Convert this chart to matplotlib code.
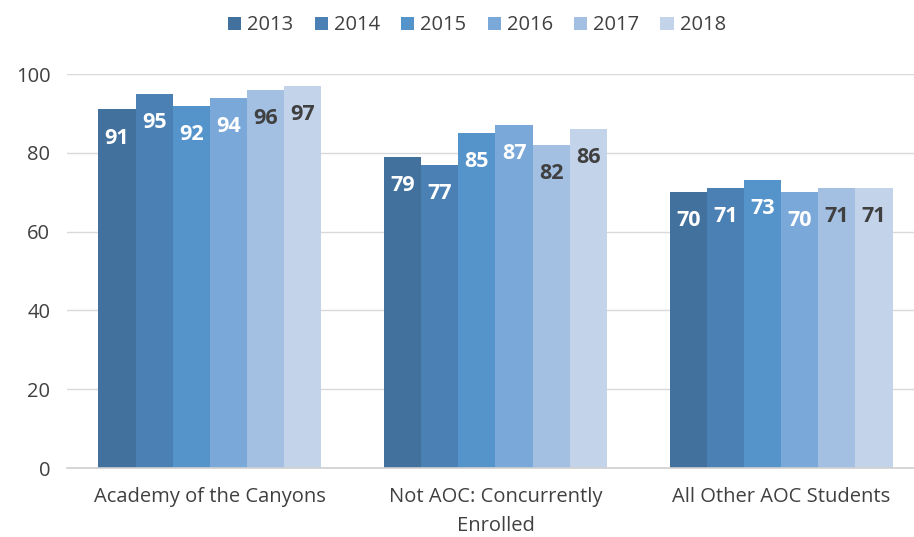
import numpy as np
import matplotlib.pyplot as plt

plt.rcParams['font.family'] = ['Open Sans', 'DejaVu Sans']

categories = ['Academy of the Canyons', 'Not AOC: Concurrently\nEnrolled', 'All Other AOC Students']
years = ['2013', '2014', '2015', '2016', '2017', '2018']
values = {
    '2013': [91, 79, 70],
    '2014': [95, 77, 71],
    '2015': [92, 85, 73],
    '2016': [94, 87, 70],
    '2017': [96, 82, 71],
    '2018': [97, 86, 71],
}
colors = ['#41719C', '#4A80B4', '#5593CB', '#7AA8D8', '#A3BFE2', '#C3D3EA']
label_colors = ['white', 'white', 'white', 'white', '#404040', '#404040']

fig = plt.figure(figsize=(9.14, 5.37), dpi=100)
ax = fig.add_axes([67 / 914, 1 - 468 / 537, 857 / 914, (468 - 74) / 537])

x = np.arange(len(categories))
w = 0.13
for i, yr in enumerate(years):
    pos = x + (i - 2.5) * w
    bars = ax.bar(pos, values[yr], w, color=colors[i], label=yr, zorder=2)
    for b, v in zip(bars, values[yr]):
        ax.annotate(str(v), (b.get_x() + b.get_width() / 2, v),
                    xytext=(0, -13), textcoords='offset points',
                    ha='center', va='top', fontsize=15.5, fontweight='bold',
                    color=label_colors[i])

ax.set_xlim(-0.5, 2.5)
ax.set_ylim(0, 100)
ax.set_yticks([0, 20, 40, 60, 80, 100])
ax.set_xticks(x)
ax.set_xticklabels(categories, fontsize=14.5, color='#404040', linespacing=1.55)
ax.tick_params(axis='y', labelsize=14.5, labelcolor='#404040', length=0, pad=12)
ax.tick_params(axis='x', length=0, pad=14)
ax.grid(axis='y', color='#D9D9D9', linewidth=1, zorder=0)
for s in ['top', 'right', 'left']:
    ax.spines[s].set_visible(False)
ax.spines['bottom'].set_color('#D0D0D0')
ax.spines['bottom'].set_linewidth(1.2)

fig.legend(loc='upper center', bbox_to_anchor=(477 / 914, 1.005), ncol=6, frameon=False,
           fontsize=14.5, handlelength=0.65, handleheight=0.65, handletextpad=0.3,
           columnspacing=1.05, labelcolor='#404040')

fig.savefig('out.png', dpi=100)
